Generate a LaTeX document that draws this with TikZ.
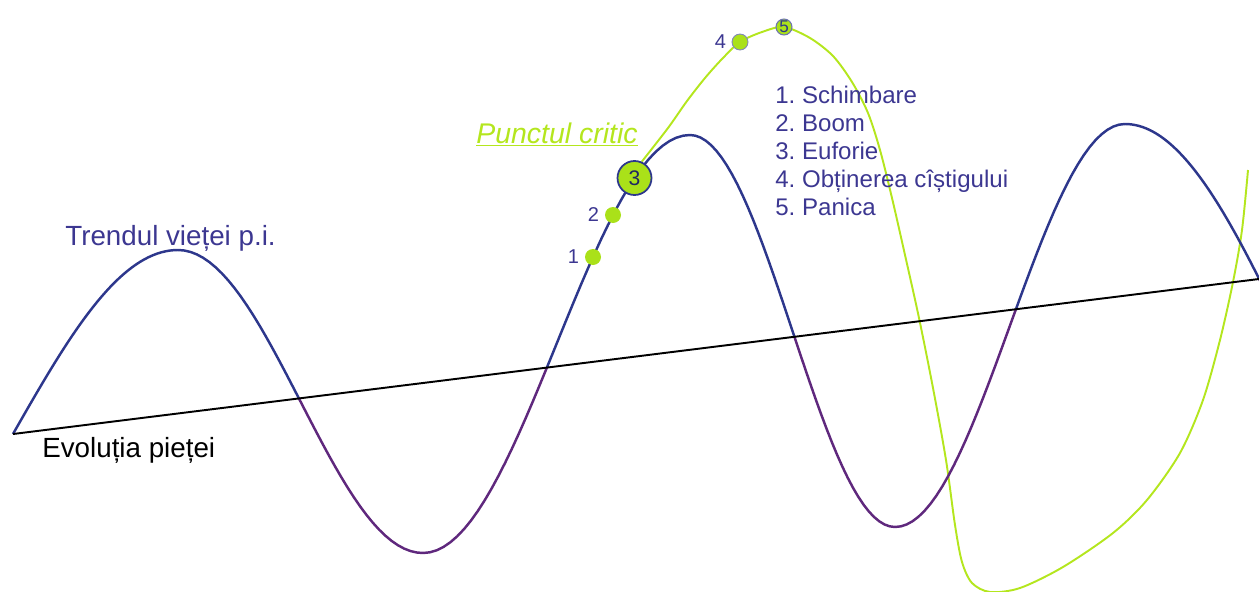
\documentclass[tikz,border=0pt]{standalone}
\usepackage{fontspec}
\setmainfont{Liberation Sans}
\usetikzlibrary{positioning,backgrounds}
\definecolor{wavecol}{RGB}{45,55,140}
\definecolor{lowcol}{RGB}{95,40,125}
\definecolor{critcol}{RGB}{180,230,30}
\definecolor{dotcol}{RGB}{170,225,25}
\definecolor{txtcol}{RGB}{60,55,145}
% half cosine wave from (#1,#2) towards (#3,#4), drawn up to x=#5
\newcommand{\halfwave}[5]{-- plot[domain=#1:#5,samples=40] (\x,{(#2+#4)/2+(#2-#4)/2*cos((\x-#1)/(#3-#1)*180)})}
\newcommand{\marketwave}{(13,434) -- plot[domain=13:178,samples=40] (\x,{434-184*sin((\x-13)/165*90)})
  \halfwave{178}{250}{423}{553}{423}
  \halfwave{423}{553}{690}{135}{690}
  \halfwave{690}{135}{895}{527}{895}
  \halfwave{895}{527}{1125}{124}{1125}
  \halfwave{1125}{124}{1455}{560}{1262}}

\begin{document}
\begin{tikzpicture}[x=0.02cm,y=-0.02cm,
    wave/.style={line width=1.4pt,line join=round},
    critline/.style={critcol,line width=1.1pt},
    dot/.style={circle,fill=dotcol,inner sep=0pt,minimum size=0.32cm},
    bigdot/.style={dot,draw=wavecol,line width=1pt,minimum size=0.68cm,font=\fontsize{12}{12}\selectfont,text=wavecol!70!black},
    num/.style={text=txtcol,font=\fontsize{11.4}{12}\selectfont,inner sep=1pt},
    legend/.style={text=txtcol,font=\fontsize{13.7}{16}\selectfont,anchor=base west,inner sep=0pt},
    marktext/.style={font=\fontsize{15.8}{18}\selectfont,anchor=base west,inner sep=0pt}]

\useasboundingbox (0,0) rectangle (1259,592);
\clip (0,0) rectangle (1259,592);

% market line
\coordinate (m0) at (13,434);
\coordinate (m1) at (1259,279);

% life trend: blue above the market line, purple below
\begin{scope}
  \clip (0,-10) -- (1270,-10) -- (1270,277.6) -- (0,435.6) -- cycle;
  \draw[wave,wavecol] \marketwave;
\end{scope}
\begin{scope}
  \clip (0,600) -- (1270,600) -- (1270,277.6) -- (0,435.6) -- cycle;
  \draw[wave,lowcol] \marketwave;
\end{scope}
\draw[black,line width=1.1pt] (m0) -- (m1);

% phases
\node[dot] (p1) at (593,257) {};
\node[dot] (p2) at (613,215) {};
\node[bigdot] (p3) at (634.5,178) {3};
\node[dot,draw=wavecol!60,line width=0.5pt] (p4) at (740,42) {};
\node[dot,draw=wavecol!70,line width=0.6pt,font=\fontsize{9.7}{10}\selectfont,text=wavecol] (p5) at (784,27) {5};

\node[num,left=2pt of p1] (n1) {1};
\node[num,left=2pt of p2] (n2) {2};
\node[num,left=2pt of p4] (n4) {4};

% critical curve
\begin{scope}[on background layer]
  \draw[critline] plot[smooth,tension=0.5] coordinates {(p3.66) (668,128) (687,101) (705,78) (722,59) (p4) (762,32) (p5) (810,38) (833,56) (852,82) (868,113) (880,150) (892,198) (905,255) (919,318) (933,388) (946,460) (955,525) (962,562) (972,583) (990,592) (1020,588) (1063,567) (1113,533) (1147,500) (1180,453) (1203,400) (1220,340) (1233,282) (1242,230) (1248,170)};
\end{scope}

\node[marktext,text=txtcol] (trend) at (65,245) {Trendul vieței p.i.};
\node[marktext] (evol) at (42,457) {Evoluția pieței};
\node[marktext,text=critcol,font=\fontsize{16.2}{18}\selectfont\itshape] (crit) at (476,143) {\underline{Punctul critic}};

\foreach \t [count=\i] in {Schimbare,Boom,Euforie,Obținerea cîștigului,Panica}
  \node[legend] (leg\i) at (775,{75+28*\i}) {\i.\ \t};
\end{tikzpicture}
\end{document}
